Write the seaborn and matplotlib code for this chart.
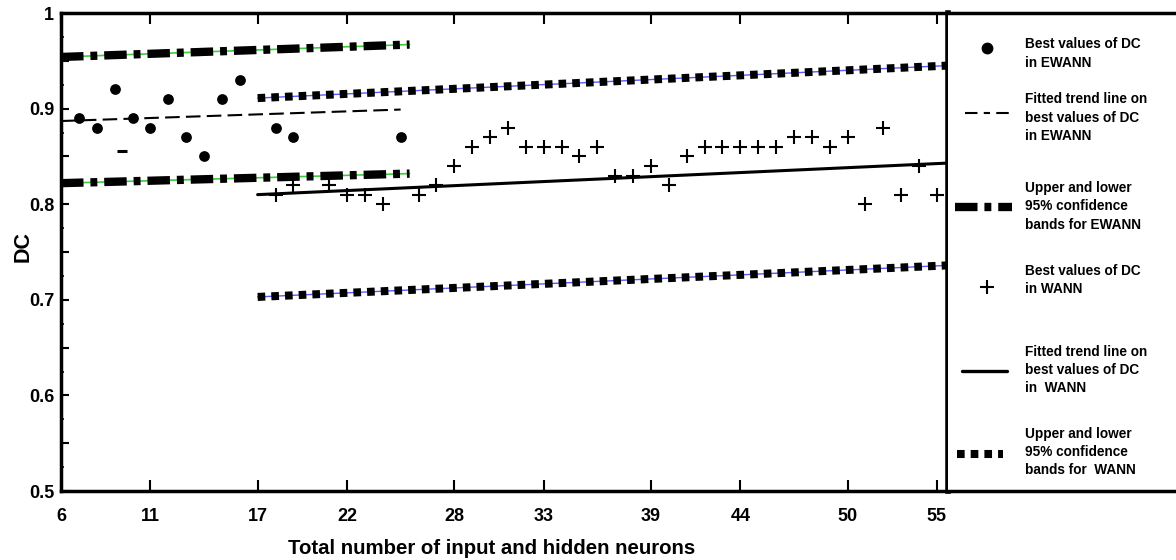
import matplotlib
matplotlib.use("Agg")
import matplotlib.pyplot as plt
import seaborn as sns
import numpy as np

# ---------------- data ----------------
ewann_x = [7, 8, 9, 10, 11, 12, 13, 14, 15, 16, 18, 19, 25]
ewann_y = [0.89, 0.88, 0.92, 0.89, 0.88, 0.91, 0.87, 0.85, 0.91, 0.93, 0.88, 0.87, 0.87]

wann_x = [18, 19, 21, 22, 23, 24, 26, 27, 28, 29, 30, 31, 32, 33, 34, 35, 36, 37,
          38, 39, 40, 41, 42, 43, 44, 45, 46, 47, 48, 49, 50, 51, 52, 53, 54, 55]
wann_y = [0.81, 0.82, 0.82, 0.81, 0.81, 0.80, 0.81, 0.82, 0.84, 0.86, 0.87, 0.88,
          0.86, 0.86, 0.86, 0.85, 0.86, 0.83, 0.83, 0.84, 0.82, 0.85, 0.86, 0.86,
          0.86, 0.86, 0.86, 0.87, 0.87, 0.86, 0.87, 0.80, 0.88, 0.81, 0.84, 0.81]

ewann_trend_x = [6, 25]
ewann_trend_y = [0.887, 0.899]
ewann_band_x = [6, 25.5]
ewann_upper = [0.954, 0.967]
ewann_lower = [0.822, 0.832]

wann_trend_x = [17, 55.6]
wann_trend_y = [0.810, 0.843]
wann_band_x = [17, 55.6]
wann_upper = [0.911, 0.945]
wann_lower = [0.703, 0.736]

stray_x = [9.4]
stray_y = [0.856]

x_ticks = [6, 11, 17, 22, 28, 33, 39, 44, 50, 55]
y_major = [0.5, 0.6, 0.7, 0.8, 0.9, 1.0]
y_major_labels = ["0.5", "0.6", "0.7", "0.8", "0.9", "1"]

legend_labels = [
    "Best values of DC\nin EWANN",
    "Fitted trend line on\nbest values of DC\nin EWANN",
    "Upper and lower\n95% confidence\nbands for EWANN",
    "Best values of DC\nin WANN",
    "Fitted trend line on\nbest values of DC\nin  WANN",
    "Upper and lower\n95% confidence\nbands for  WANN",
]

# ---------------- style ----------------
sns.set_theme(style="white")
plt.rcParams["font.family"] = ["Liberation Sans", "DejaVu Sans"]
plt.rcParams["font.weight"] = "bold"

W, H = 1176, 560
fig = plt.figure(figsize=(W / 100, H / 100), dpi=100)
L, R, T, B = 61, 948, 13, 491
ax = fig.add_axes([L / W, (H - B) / H, (R - L) / W, (B - T) / H])
axl = fig.add_axes([R / W, (H - B) / H, (W - R) / W, (B - T) / H])

GREEN = "#3ccf3c"
BLUE = "#5a5aff"
ew_dash = (0, (2.7, 0.83, 0.83, 0.83))
sq_dash = (0, (0.95, 0.75))


def line(a, x, y, **kw):
    sns.lineplot(x=x, y=y, ax=a, estimator=None, errorbar=None, sort=False, **kw)


# EWANN confidence bands
for yy in (ewann_upper, ewann_lower):
    line(ax, ewann_band_x, yy, color=GREEN, linewidth=1.2, zorder=2)
    line(ax, ewann_band_x, yy, color="black", linewidth=6.0, linestyle=ew_dash,
         dash_capstyle="butt", zorder=3)

# WANN confidence bands
for yy in (wann_upper, wann_lower):
    line(ax, wann_band_x, yy, color=BLUE, linewidth=1.0, zorder=2)
    line(ax, wann_band_x, yy, color="black", linewidth=5.8, linestyle=sq_dash,
         dash_capstyle="butt", zorder=3)

# trend lines
line(ax, ewann_trend_x, ewann_trend_y, color="black", linewidth=1.5,
     linestyle=(0, (7, 3)), zorder=3)
line(ax, wann_trend_x, wann_trend_y, color="black", linewidth=2.2, zorder=3)

# points
sns.scatterplot(x=ewann_x, y=ewann_y, ax=ax, marker="o", s=60, color="black",
                edgecolor="black", linewidth=0, zorder=4)
sns.scatterplot(x=wann_x, y=wann_y, ax=ax, marker="+", s=115, color="black",
                linewidth=1.5, zorder=4)
sns.scatterplot(x=stray_x, y=stray_y, ax=ax, marker="_", s=50, color="black",
                linewidth=2.2, zorder=4)

# axes
ax.set_xlim(6, 55.62)
ax.set_ylim(0.5, 1.0)
ax.set_xticks(x_ticks)
ax.set_xticklabels([str(v) for v in x_ticks])
yt = np.round(np.arange(0.5, 1.0001, 0.05), 3)
ax.set_yticks(yt)
ax.set_yticklabels([y_major_labels[y_major.index(v)] if v in y_major else "" for v in yt])
ax.set_yticks(np.round(np.arange(0.5, 1.0001, 0.025), 3), minor=True)
ax.tick_params(axis="x", direction="in", top=True, bottom=True, length=8, width=1.5,
               pad=12, labelsize=13, color="black", labelcolor="black")
ax.tick_params(axis="y", which="major", direction="in", left=True, length=6, width=1.5,
               pad=5, labelsize=13, color="black", labelcolor="black")
ax.tick_params(axis="y", which="minor", direction="in", left=True, length=2.5, width=1.2,
               color="black")
for lab in ax.get_xticklabels() + ax.get_yticklabels():
    lab.set_fontweight("bold")

for s in ("top", "left", "bottom"):
    ax.spines[s].set_linewidth(2.5)
    ax.spines[s].set_color("black")
ax.spines["right"].set_linewidth(4)
ax.spines["right"].set_color("black")

ax.set_xlabel("Total number of input and hidden neurons", fontsize=14.7,
              fontweight="bold", va="center", color="black")
ax.xaxis.set_label_coords((492 - L) / (R - L), (B - 548) / (B - T))
ax.set_ylabel("DC", fontsize=15.5, fontweight="bold", va="center", color="black")
ax.yaxis.set_label_coords((23 - L) / (R - L), (B - 247) / (B - T))

# legend panel
axl.set_xlim(R, W)
axl.set_ylim(B, T)
axl.set_xticks([])
axl.set_yticks([])
for s in ("top", "bottom"):
    axl.spines[s].set_linewidth(2.5)
    axl.spines[s].set_color("black")
axl.spines["left"].set_visible(False)
axl.spines["right"].set_visible(False)

axl.plot([987], [48], marker="o", ms=7.5, color="black", ls="none")
axl.plot([965, 1010], [113, 113], color="black", lw=1.5, ls=(0, (6, 3, 3, 3)))
axl.plot([955, 1012], [207, 207], color="black", lw=6.0, ls=ew_dash,
         dash_capstyle="butt")
axl.plot([987], [287], marker="+", ms=10.5, mew=1.5, color="black", ls="none")
axl.plot([962, 1007], [371, 371], color="black", lw=2.4)
axl.plot([957, 1003], [454, 454], color="black", lw=5.8, ls=sq_dash,
         dash_capstyle="butt")

text_y = [53.5, 117.5, 206.5, 280, 370, 452]
for lab, ty in zip(legend_labels, text_y):
    axl.text(1025, ty, lab, ha="left", va="center", fontsize=9.8,
             fontweight="bold", linespacing=1.4, color="black")

fig.savefig("out.png", dpi=100)
